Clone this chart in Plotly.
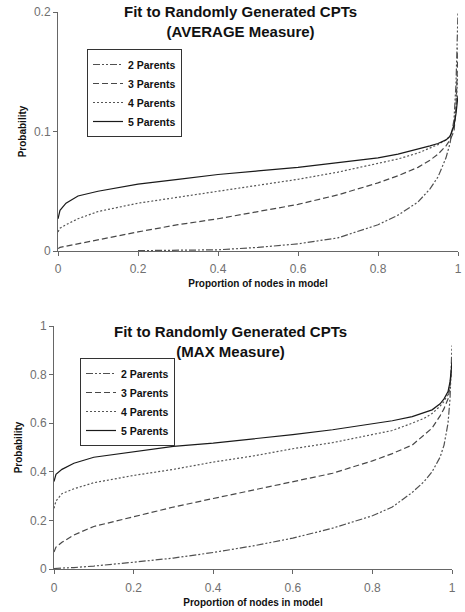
import plotly.graph_objects as go

x_vals = [0, 0.005, 0.02, 0.05, 0.1, 0.2, 0.3, 0.4, 0.5, 0.6, 0.7, 0.8, 0.85, 0.9, 0.93, 0.95, 0.97, 0.98, 0.99, 0.995, 1.0]
series_names = ["2 Parents", "3 Parents", "4 Parents", "5 Parents"]

# AVERAGE measure (top chart)
avg_2p = [None, None, None, None, None, 0.0003, 0.0005, 0.001, 0.003, 0.006, 0.011, 0.022, 0.030, 0.041, 0.052, 0.062, 0.078, 0.090, 0.11, 0.14, 0.2]
avg_3p = [0.002, 0.003, 0.004, 0.006, 0.009, 0.016, 0.022, 0.027, 0.033, 0.039, 0.047, 0.057, 0.063, 0.070, 0.076, 0.081, 0.088, 0.093, 0.10, 0.12, 0.17]
avg_4p = [0.016, 0.019, 0.022, 0.027, 0.033, 0.040, 0.045, 0.050, 0.055, 0.060, 0.066, 0.073, 0.077, 0.082, 0.086, 0.089, 0.093, 0.096, 0.105, 0.12, 0.15]
avg_5p = [0.027, 0.034, 0.040, 0.046, 0.050, 0.056, 0.060, 0.064, 0.067, 0.070, 0.074, 0.078, 0.081, 0.085, 0.088, 0.090, 0.093, 0.096, 0.105, 0.115, 0.13]

# MAX measure (bottom chart)
max_2p = [0.002, 0.003, 0.004, 0.006, 0.012, 0.028, 0.045, 0.068, 0.095, 0.127, 0.168, 0.219, 0.255, 0.315, 0.36, 0.40, 0.46, 0.51, 0.60, 0.70, 0.92]
max_3p = [0.07, 0.09, 0.11, 0.14, 0.175, 0.216, 0.255, 0.29, 0.325, 0.357, 0.394, 0.445, 0.475, 0.51, 0.55, 0.58, 0.63, 0.66, 0.70, 0.75, 0.85]
max_4p = [0.25, 0.28, 0.31, 0.33, 0.355, 0.385, 0.41, 0.44, 0.465, 0.495, 0.52, 0.552, 0.57, 0.60, 0.62, 0.64, 0.67, 0.69, 0.72, 0.76, 0.83]
max_5p = [0.36, 0.39, 0.41, 0.435, 0.46, 0.483, 0.505, 0.518, 0.534, 0.553, 0.573, 0.597, 0.61, 0.627, 0.643, 0.655, 0.68, 0.70, 0.73, 0.77, 0.85]

title_top = "Fit to Randomly Generated CPTs<br>(AVERAGE Measure)"
title_bottom = "Fit to Randomly Generated CPTs<br>(MAX Measure)"
x_title = "Proportion of nodes in model"
y_title = "Probability"

dashes = ["7px,2px,2px,2px,2px,2px", "6px,3px", "2px,2px", "solid"]
colors = ["#505050", "#484848", "#555555", "#1a1a1a"]

FONT = "Liberation Sans, Arial, sans-serif"

fig = go.Figure()

for i, (name, ys) in enumerate(zip(series_names, [avg_2p, avg_3p, avg_4p, avg_5p])):
    fig.add_trace(go.Scatter(x=x_vals, y=ys, mode="lines", name=name,
                             line=dict(color=colors[i], width=1.2, dash=dashes[i]),
                             xaxis="x", yaxis="y", legend="legend", connectgaps=False))
for i, (name, ys) in enumerate(zip(series_names, [max_2p, max_3p, max_4p, max_5p])):
    fig.add_trace(go.Scatter(x=x_vals, y=ys, mode="lines", name=name,
                             line=dict(color=colors[i], width=1.2, dash=dashes[i]),
                             xaxis="x2", yaxis="y2", legend="legend2"))

W, H = 465, 612
def px_x(p): return p / W
def px_y(p): return 1 - p / H

axis_common = dict(showline=True, linecolor="#666666", linewidth=1, ticks="outside",
                   ticklen=4, tickcolor="#666666", showgrid=False, zeroline=False,
                   automargin=False,
                   tickfont=dict(family=FONT, size=12, color="#707070"),
                   title_font=dict(family=FONT, size=10, color="#111111", weight="bold"))

fig.update_layout(
    width=W, height=H,
    margin=dict(l=0, r=0, t=0, b=0, autoexpand=False),
    paper_bgcolor="white", plot_bgcolor="white",
    showlegend=True,
    xaxis=dict(domain=[px_x(58), px_x(458)], range=[0, 1], dtick=0.2, anchor="y",
               ticklabelstandoff=3,
               title=dict(text=x_title, standoff=4), **axis_common),
    yaxis=dict(domain=[px_y(251), px_y(12)], range=[0, 0.2], dtick=0.1, anchor="x",
               title=dict(text=y_title, standoff=5), **axis_common),
    xaxis2=dict(domain=[px_x(54), px_x(452)], range=[0, 1], dtick=0.2, anchor="y2",
                ticklabelstandoff=4,
                title=dict(text=x_title, standoff=4), **axis_common),
    yaxis2=dict(domain=[px_y(569), px_y(326)], range=[0, 1], dtick=0.2, anchor="x2",
                title=dict(text=y_title, standoff=5), **axis_common),
    legend=dict(x=px_x(87), y=px_y(49), xanchor="left", yanchor="top",
                bordercolor="#333333", borderwidth=1, bgcolor="white",
                font=dict(family=FONT, size=10.5, color="#111111", weight="bold"),
                itemwidth=30, tracegroupgap=0),
    legend2=dict(x=px_x(80), y=px_y(358), xanchor="left", yanchor="top",
                 bordercolor="#333333", borderwidth=1, bgcolor="white",
                 font=dict(family=FONT, size=10.5, color="#111111", weight="bold"),
                 itemwidth=30, tracegroupgap=0),
    annotations=[
        dict(text="<b>" + title_top + "</b>", x=px_x(240), y=px_y(1), xref="paper", yref="paper",
             xanchor="center", yanchor="top", showarrow=False,
             font=dict(family=FONT, size=15, color="#111111")),
        dict(text="<b>" + title_bottom + "</b>", x=px_x(230), y=px_y(321), xref="paper", yref="paper",
             xanchor="center", yanchor="top", showarrow=False,
             font=dict(family=FONT, size=15, color="#111111")),
    ],
)

fig.write_html("out.html", config={"displayModeBar": False},
               post_script="document.body.style.margin='0';document.body.style.padding='0';document.body.style.overflow='hidden';")
